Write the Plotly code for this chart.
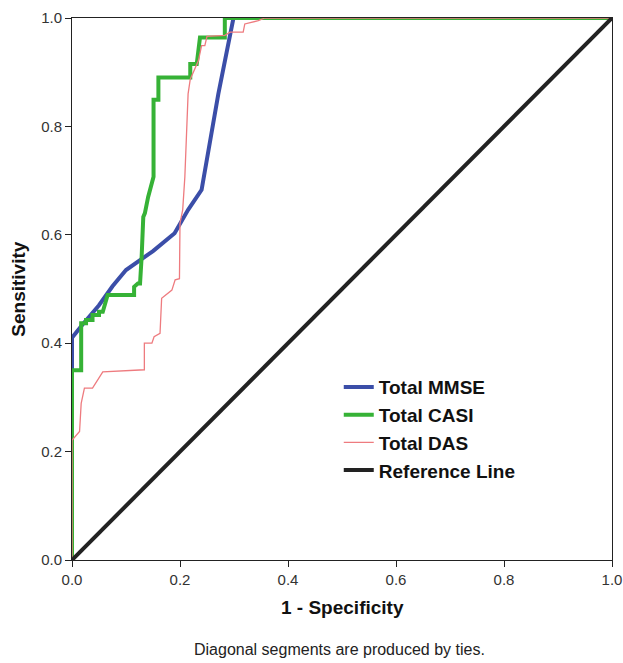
import plotly.graph_objects as go

# ROC curve data (1 - Specificity, Sensitivity)
mmse_fpr = [0, 0, 0.02, 0.05, 0.075, 0.10, 0.15, 0.19, 0.215, 0.24, 0.271, 0.299, 1.0]
mmse_tpr = [0, 0.41, 0.435, 0.47, 0.505, 0.535, 0.57, 0.603, 0.646, 0.683, 0.86, 1.0, 1.0]

casi_fpr = [0, 0, 0.017, 0.017, 0.026, 0.026, 0.038, 0.038, 0.05, 0.05, 0.057, 0.066, 0.115, 0.115,
            0.122, 0.126, 0.129, 0.132, 0.135, 0.141, 0.151, 0.151, 0.16, 0.16, 0.219, 0.219,
            0.231, 0.237, 0.283, 0.283, 1.0]
casi_tpr = [0, 0.35, 0.35, 0.437, 0.437, 0.443, 0.443, 0.452, 0.452, 0.458, 0.458, 0.489, 0.489, 0.504,
            0.51, 0.51, 0.56, 0.633, 0.64, 0.67, 0.707, 0.849, 0.849, 0.89, 0.89, 0.915,
            0.915, 0.964, 0.964, 1.0, 1.0]

das_fpr = [0, 0, 0.014, 0.017, 0.023, 0.038, 0.057, 0.134, 0.134, 0.148, 0.152, 0.163, 0.166, 0.185,
           0.191, 0.199, 0.2, 0.205, 0.209, 0.215, 0.219, 0.225, 0.234, 0.24, 0.246, 0.25, 0.283,
           0.293, 0.317, 0.32, 0.345, 0.357, 1.0]
das_tpr = [0, 0.221, 0.237, 0.289, 0.317, 0.317, 0.347, 0.351, 0.40, 0.40, 0.412, 0.418, 0.483, 0.498,
           0.517, 0.519, 0.621, 0.646, 0.707, 0.86, 0.887, 0.90, 0.921, 0.949, 0.949, 0.966, 0.968,
           0.974, 0.974, 0.989, 0.995, 1.0, 1.0]

ref_x = [0, 1]
ref_y = [0, 1]

tick_vals = [0, 0.2, 0.4, 0.6, 0.8, 1.0]
tick_text = ["0.0", "0.2", "0.4", "0.6", "0.8", "1.0"]

FONT = "Liberation Sans, Arial, sans-serif"

fig = go.Figure()
fig.add_trace(go.Scatter(x=mmse_fpr, y=mmse_tpr, mode="lines", name="Total MMSE",
                         line=dict(color="#3b4ea8", width=4)))
fig.add_trace(go.Scatter(x=casi_fpr, y=casi_tpr, mode="lines", name="Total CASI",
                         line=dict(color="#36b236", width=4)))
fig.add_trace(go.Scatter(x=das_fpr, y=das_tpr, mode="lines", name="Total DAS",
                         line=dict(color="#ee7b7f", width=1.3)))
fig.add_trace(go.Scatter(x=ref_x, y=ref_y, mode="lines", name="Reference Line",
                         line=dict(color="#222222", width=4)))

axis_common = dict(
    range=[0, 1], tickvals=tick_vals, ticktext=tick_text, automargin=False,
    showgrid=False, zeroline=False, showline=True, linecolor="#222222", linewidth=1,
    mirror=True, ticks="outside", ticklen=6, tickcolor="#222222", tickwidth=1,
    tickfont=dict(family=FONT, size=15, color="#333333"),
)

fig.update_layout(
    width=623, height=663,
    margin=dict(l=72, r=11, t=18, b=103),
    paper_bgcolor="white", plot_bgcolor="white",
    xaxis=dict(**axis_common),
    yaxis=dict(**axis_common),
    showlegend=True,
    legend=dict(x=0.494, y=0.354, xanchor="left", yanchor="top",
                font=dict(family=FONT, size=19, color="#111111", weight="bold"),
                bgcolor="rgba(0,0,0,0)", borderwidth=0, itemwidth=30,
                tracegroupgap=0),
    annotations=[
        dict(text="<b>1 - Specificity</b>", x=0.5, y=-0.087, xref="paper", yref="paper",
             xanchor="center", yanchor="middle", showarrow=False,
             font=dict(family=FONT, size=19, color="#111111")),
        dict(text="<b>Sensitivity</b>", x=-0.1006, y=0.5, xref="paper", yref="paper",
             xanchor="center", yanchor="middle", showarrow=False, textangle=-90,
             font=dict(family=FONT, size=19, color="#111111")),
        dict(text="Diagonal segments are produced by ties.", x=0.496, y=-0.166,
             xref="paper", yref="paper", xanchor="center", yanchor="middle", showarrow=False,
             font=dict(family=FONT, size=16, color="#222222")),
    ],
)

fig.write_html("out.html",
               config={"displayModeBar": False},
               post_script="document.body.style.margin='0px';document.body.style.overflow='hidden';")
